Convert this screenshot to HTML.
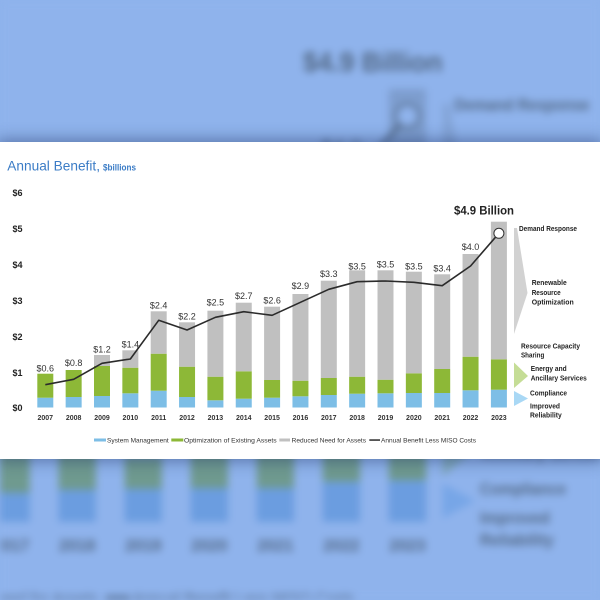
<!DOCTYPE html>
<html><head><meta charset="utf-8"><style>
html,body{margin:0;padding:0;width:600px;height:600px;overflow:hidden;background:#8fb3ec;}
#wrap{position:relative;width:600px;height:600px;overflow:hidden;background:#8fb3ec;}
#bg{position:absolute;left:0;top:0;width:600px;height:600px;filter:blur(4px);}
#card{position:absolute;left:0;top:142px;width:600px;height:317px;background:#fff;box-shadow:0 0 14px 3px rgba(30,50,100,.45);}
#fg{position:absolute;left:0;top:0;width:600px;height:600px;}
svg text{font-family:"Liberation Sans",sans-serif;}
.b{fill:#7dbee6}.g{fill:#8db837}.r{fill:#c0c0c0}.t{fill:#222}.v{fill:#333}.ln{stroke:#2b2b2b;fill:none}
.ar{fill:#d2d2d2}.ag{fill:#c5dd96}.ab{fill:#a9d8f5}.ci{fill:#fff;stroke:#333}
#bg .b{fill:#6b9de0}#bg .g{fill:#6f9a8f}#bg .r{fill:#7d9dce}#bg .t,#bg .v{fill:#516784}#bg .ln{stroke:#516784}
#bg .ar{fill:#83a4d7}#bg .ag{fill:#7fa7bb}#bg .ab{fill:#77a6e7}#bg .ci{fill:#8fb3ec;stroke:#516784}
</style></head><body>
<div id="wrap">
<svg id="bg" viewBox="0 0 600 600" xmlns="http://www.w3.org/2000/svg">
<rect x="0" y="0" width="600" height="600" fill="#8fb3ec"/>
<g transform="matrix(2.33 0 0 2.33 -755 -427.6)">
<rect class="b" x="292.45" y="396.3" width="16" height="11.2"/><rect class="g" x="292.45" y="380.7" width="16" height="15.6"/><rect class="r" x="292.45" y="294" width="16" height="86.7"/>
<rect class="b" x="320.8" y="395" width="16" height="12.5"/><rect class="g" x="320.8" y="378" width="16" height="17"/><rect class="r" x="320.8" y="280.7" width="16" height="97.3"/>
<rect class="b" x="349.15" y="393.7" width="16" height="13.8"/><rect class="g" x="349.15" y="376.7" width="16" height="17"/><rect class="r" x="349.15" y="270.3" width="16" height="106.4"/>
<rect class="b" x="377.5" y="393.3" width="16" height="14.2"/><rect class="g" x="377.5" y="379.7" width="16" height="13.6"/><rect class="r" x="377.5" y="270.3" width="16" height="109.4"/>
<rect class="b" x="405.85" y="393" width="16" height="14.5"/><rect class="g" x="405.85" y="373.3" width="16" height="19.7"/><rect class="r" x="405.85" y="271.7" width="16" height="101.6"/>
<rect class="b" x="434.2" y="393" width="16" height="14.5"/><rect class="g" x="434.2" y="369" width="16" height="24"/><rect class="r" x="434.2" y="274.3" width="16" height="94.7"/>
<rect class="b" x="462.55" y="390.3" width="16" height="17.2"/><rect class="g" x="462.55" y="356.7" width="16" height="33.6"/><rect class="r" x="462.55" y="254" width="16" height="102.7"/>
<rect class="b" x="490.9" y="389.7" width="16" height="17.8"/><rect class="g" x="490.9" y="359.3" width="16" height="30.4"/><rect class="r" x="490.9" y="221.7" width="16" height="137.6"/>
<polygon class="ar" points="514,228 517,228 527.5,293 514,334"/>
<polygon class="ag" points="514,362.5 528,376 514,388"/>
<polygon class="ab" points="514,391 528,398.5 514,406"/>
<polyline class="ln" stroke-width="1.6" points="300.45,302.3 328.8,289.3 357.15,281.7 385.5,281 413.85,282.3 442.2,285.7 470.55,266 498.9,233.3"/>
<circle class="ci" cx="498.9" cy="233.3" r="5" stroke-width="1"/>
<text class="t" x="454" y="214.3" font-size="12" font-weight="bold" textLength="60" lengthAdjust="spacingAndGlyphs">$4.9 Billion</text>
<text class="v" x="470.55" y="250" font-size="9" text-anchor="middle">$4.0</text>
<g font-size="7" font-weight="bold" class="t">
<text class="t" x="519" y="231" textLength="58" lengthAdjust="spacingAndGlyphs">Demand Response</text>
<text class="t" x="531.7" y="285" textLength="35" lengthAdjust="spacingAndGlyphs">Renewable</text>
<text class="t" x="531.7" y="295" textLength="29" lengthAdjust="spacingAndGlyphs">Resource</text>
<text class="t" x="531.7" y="304.3" textLength="42" lengthAdjust="spacingAndGlyphs">Optimization</text>
<text class="t" x="521" y="348.3" textLength="59" lengthAdjust="spacingAndGlyphs">Resource Capacity</text>
<text class="t" x="521" y="357.3" textLength="23.3" lengthAdjust="spacingAndGlyphs">Sharing</text>
<text class="t" x="530.7" y="371" textLength="36" lengthAdjust="spacingAndGlyphs">Energy and</text>
<text class="t" x="530.7" y="380.3" textLength="56" lengthAdjust="spacingAndGlyphs">Ancillary Services</text>
<text class="t" x="530" y="395.7" textLength="37" lengthAdjust="spacingAndGlyphs">Compliance</text>
<text class="t" x="530" y="408.3" textLength="30" lengthAdjust="spacingAndGlyphs">Improved</text>
<text class="t" x="530" y="417.7" textLength="31.7" lengthAdjust="spacingAndGlyphs">Reliability</text>
</g>
<g font-size="7" font-weight="bold" text-anchor="middle">
<text class="v" x="300.45" y="420">2016</text><text class="v" x="328.8" y="420">2017</text><text class="v" x="357.15" y="420">2018</text><text class="v" x="385.5" y="420">2019</text><text class="v" x="413.85" y="420">2020</text><text class="v" x="442.2" y="420">2021</text><text class="v" x="470.55" y="420">2022</text><text class="v" x="498.9" y="420">2023</text>
</g>
<rect class="r" x="279.3" y="438.5" width="10.7" height="3"/>
<rect x="369.3" y="439.3" width="10.7" height="1.5" class="t"/>
<text class="v" x="291.7" y="442.4" font-size="6.5" textLength="74.3" lengthAdjust="spacingAndGlyphs">Reduced Need for Assets</text>
<text class="v" x="381" y="442.4" font-size="6.5" textLength="95" lengthAdjust="spacingAndGlyphs">Annual Benefit Less MISO Costs</text>
</g>
</svg>
<div id="card"></div>
<svg id="fg" viewBox="0 0 600 600" xmlns="http://www.w3.org/2000/svg">
<text x="7.3" y="170.7" font-size="14" fill="#3b7cc6" textLength="92.7" lengthAdjust="spacingAndGlyphs">Annual Benefit,</text>
<text x="103" y="170.7" font-size="9" font-weight="bold" fill="#3b7cc6" textLength="33" lengthAdjust="spacingAndGlyphs">$billions</text>
<g font-size="9" font-weight="bold" class="t">
<text x="12.5" y="196">$6</text><text x="12.5" y="232">$5</text><text x="12.5" y="268">$4</text><text x="12.5" y="304">$3</text><text x="12.5" y="340">$2</text><text x="12.5" y="376">$1</text><text x="12.5" y="411">$0</text>
</g>
<rect class="b" x="37.3" y="397.7" width="16" height="9.8"/><rect class="g" x="37.3" y="373.7" width="16" height="24"/>
<rect class="b" x="65.65" y="397" width="16" height="10.5"/><rect class="g" x="65.65" y="370" width="16" height="27"/>
<rect class="b" x="94" y="396" width="16" height="11.5"/><rect class="g" x="94" y="366" width="16" height="30"/><rect class="r" x="94" y="355" width="16" height="11"/>
<rect class="b" x="122.35" y="393.3" width="16" height="14.2"/><rect class="g" x="122.35" y="367.7" width="16" height="25.6"/><rect class="r" x="122.35" y="350.3" width="16" height="17.4"/>
<rect class="b" x="150.7" y="390.7" width="16" height="16.8"/><rect class="g" x="150.7" y="353.7" width="16" height="37"/><rect class="r" x="150.7" y="311.3" width="16" height="42.4"/>
<rect class="b" x="179.05" y="397" width="16" height="10.5"/><rect class="g" x="179.05" y="366.7" width="16" height="30.3"/><rect class="r" x="179.05" y="322.3" width="16" height="44.4"/>
<rect class="b" x="207.4" y="400.3" width="16" height="7.2"/><rect class="g" x="207.4" y="376.7" width="16" height="23.6"/><rect class="r" x="207.4" y="310.7" width="16" height="66"/>
<rect class="b" x="235.75" y="398.7" width="16" height="8.8"/><rect class="g" x="235.75" y="371.3" width="16" height="27.4"/><rect class="r" x="235.75" y="302.7" width="16" height="68.6"/>
<rect class="b" x="264.1" y="397.7" width="16" height="9.8"/><rect class="g" x="264.1" y="380" width="16" height="17.7"/><rect class="r" x="264.1" y="306.7" width="16" height="73.3"/>
<rect class="b" x="292.45" y="396.3" width="16" height="11.2"/><rect class="g" x="292.45" y="380.7" width="16" height="15.6"/><rect class="r" x="292.45" y="294" width="16" height="86.7"/>
<rect class="b" x="320.8" y="395" width="16" height="12.5"/><rect class="g" x="320.8" y="378" width="16" height="17"/><rect class="r" x="320.8" y="280.7" width="16" height="97.3"/>
<rect class="b" x="349.15" y="393.7" width="16" height="13.8"/><rect class="g" x="349.15" y="376.7" width="16" height="17"/><rect class="r" x="349.15" y="270.3" width="16" height="106.4"/>
<rect class="b" x="377.5" y="393.3" width="16" height="14.2"/><rect class="g" x="377.5" y="379.7" width="16" height="13.6"/><rect class="r" x="377.5" y="270.3" width="16" height="109.4"/>
<rect class="b" x="405.85" y="393" width="16" height="14.5"/><rect class="g" x="405.85" y="373.3" width="16" height="19.7"/><rect class="r" x="405.85" y="271.7" width="16" height="101.6"/>
<rect class="b" x="434.2" y="393" width="16" height="14.5"/><rect class="g" x="434.2" y="369" width="16" height="24"/><rect class="r" x="434.2" y="274.3" width="16" height="94.7"/>
<rect class="b" x="462.55" y="390.3" width="16" height="17.2"/><rect class="g" x="462.55" y="356.7" width="16" height="33.6"/><rect class="r" x="462.55" y="254" width="16" height="102.7"/>
<rect class="b" x="490.9" y="389.7" width="16" height="17.8"/><rect class="g" x="490.9" y="359.3" width="16" height="30.4"/><rect class="r" x="490.9" y="221.7" width="16" height="137.6"/>
<polygon class="ar" points="514,228 517,228 527.5,293 514,334"/>
<polygon class="ag" points="514,362.5 528,376 514,388"/>
<polygon class="ab" points="514,391 528,398.5 514,406"/>
<polyline class="ln" stroke-width="1.6" stroke-linejoin="round" points="45.3,384.7 73.65,379.3 102,363.3 130.35,359 158.7,320.3 187.05,330 215.4,317.3 243.75,311.7 272.1,315.3 300.45,302.3 328.8,289.3 357.15,281.7 385.5,281 413.85,282.3 442.2,285.7 470.55,266 498.9,233.3"/>
<circle class="ci" cx="498.9" cy="233.3" r="5" stroke-width="1"/>
<g font-size="9" text-anchor="middle" class="v">
<text x="45.3" y="371.5">$0.6</text>
<text x="73.65" y="366">$0.8</text>
<text x="102" y="352.3">$1.2</text>
<text x="130.35" y="347.7">$1.4</text>
<text x="158.7" y="308.7">$2.4</text>
<text x="187.05" y="319.3">$2.2</text>
<text x="215.4" y="305.7">$2.5</text>
<text x="243.75" y="299">$2.7</text>
<text x="272.1" y="303.7">$2.6</text>
<text x="300.45" y="289">$2.9</text>
<text x="328.8" y="277">$3.3</text>
<text x="357.15" y="269.3">$3.5</text>
<text x="385.5" y="267.3">$3.5</text>
<text x="413.85" y="269.3">$3.5</text>
<text x="442.2" y="271.3">$3.4</text>
<text x="470.55" y="250">$4.0</text>
</g>
<text class="t" x="454" y="214.3" font-size="12" font-weight="bold" textLength="60" lengthAdjust="spacingAndGlyphs">$4.9 Billion</text>
<g font-size="7" font-weight="bold" class="t">
<text x="519" y="231" textLength="58" lengthAdjust="spacingAndGlyphs">Demand Response</text>
<text x="531.7" y="285" textLength="35" lengthAdjust="spacingAndGlyphs">Renewable</text>
<text x="531.7" y="295" textLength="29" lengthAdjust="spacingAndGlyphs">Resource</text>
<text x="531.7" y="304.3" textLength="42" lengthAdjust="spacingAndGlyphs">Optimization</text>
<text x="521" y="348.3" textLength="59" lengthAdjust="spacingAndGlyphs">Resource Capacity</text>
<text x="521" y="357.3" textLength="23.3" lengthAdjust="spacingAndGlyphs">Sharing</text>
<text x="530.7" y="371" textLength="36" lengthAdjust="spacingAndGlyphs">Energy and</text>
<text x="530.7" y="380.3" textLength="56" lengthAdjust="spacingAndGlyphs">Ancillary Services</text>
<text x="530" y="395.7" textLength="37" lengthAdjust="spacingAndGlyphs">Compliance</text>
<text x="530" y="408.3" textLength="30" lengthAdjust="spacingAndGlyphs">Improved</text>
<text x="530" y="417.7" textLength="31.7" lengthAdjust="spacingAndGlyphs">Reliability</text>
</g>
<g font-size="7" font-weight="bold" text-anchor="middle" class="v">
<text x="45.3" y="420">2007</text><text x="73.65" y="420">2008</text><text x="102" y="420">2009</text><text x="130.35" y="420">2010</text><text x="158.7" y="420">2011</text><text x="187.05" y="420">2012</text><text x="215.4" y="420">2013</text><text x="243.75" y="420">2014</text><text x="272.1" y="420">2015</text><text x="300.45" y="420">2016</text><text x="328.8" y="420">2017</text><text x="357.15" y="420">2018</text><text x="385.5" y="420">2019</text><text x="413.85" y="420">2020</text><text x="442.2" y="420">2021</text><text x="470.55" y="420">2022</text><text x="498.9" y="420">2023</text>
</g>
<rect class="b" x="94" y="438.5" width="12" height="3"/>
<text class="v" x="107" y="442.4" font-size="6.5" textLength="61.7" lengthAdjust="spacingAndGlyphs">System Management</text>
<rect class="g" x="171.3" y="438.5" width="12" height="3"/>
<text class="v" x="184" y="442.4" font-size="6.5" textLength="92.7" lengthAdjust="spacingAndGlyphs">Optimization of Existing Assets</text>
<rect class="r" x="279.3" y="438.5" width="10.7" height="3"/>
<text class="v" x="291.7" y="442.4" font-size="6.5" textLength="74.3" lengthAdjust="spacingAndGlyphs">Reduced Need for Assets</text>
<rect x="369.3" y="439.3" width="10.7" height="1.5" fill="#2b2b2b"/>
<text class="v" x="381" y="442.4" font-size="6.5" textLength="95" lengthAdjust="spacingAndGlyphs">Annual Benefit Less MISO Costs</text>
</svg>
</div>
</body></html>
